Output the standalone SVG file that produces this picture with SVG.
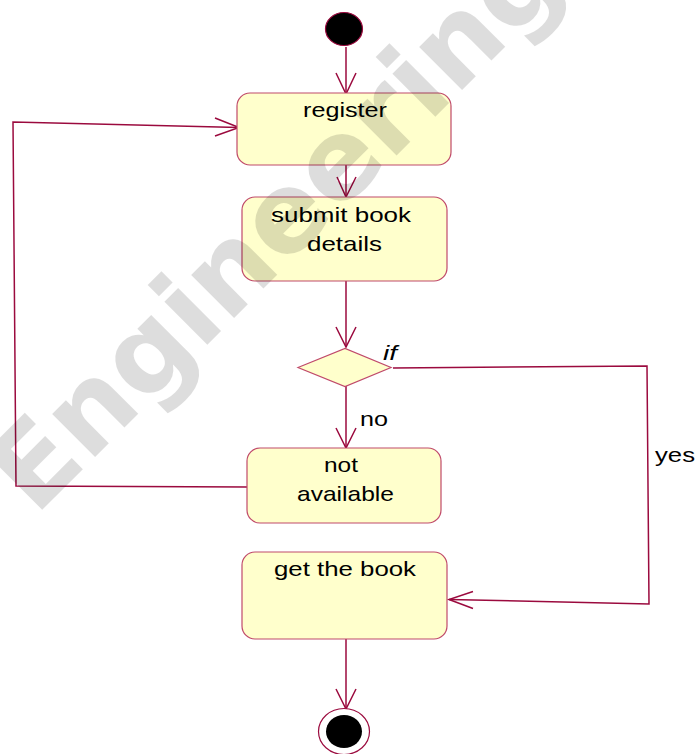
<svg xmlns="http://www.w3.org/2000/svg" width="696" height="754" viewBox="0 0 696 754">
  <style>
    .act { fill: #ffffcc; stroke: #c04a6a; stroke-width: 1.2; }
    .edge { fill: none; stroke: #9b0a3e; stroke-width: 1.5; }
    .head { fill: none; stroke: #9b0a3e; stroke-width: 1.5; stroke-linejoin: miter; }
    .lbl { font-family: "Liberation Sans", Arial, sans-serif; font-size: 21px; fill: #000; }
    .mark { font-family: "DejaVu Sans", Verdana, sans-serif; font-weight: bold; font-size: 111px; fill: #000; }
  </style>
  <rect width="696" height="754" fill="#ffffff"/>

  <!-- connectors -->
  <g id="connectors">
    <path class="edge" d="M346,47 V93"/>
    <path class="head" d="M336,73 L346,94 L356,73"/>
    <path class="edge" d="M346,165 V197"/>
    <path class="head" d="M337,177 L346,197 L356,177"/>
    <path class="edge" d="M346,281 V347"/>
    <path class="head" d="M336,327 L346,347 L356,327"/>
    <path class="edge" d="M346,386 V448"/>
    <path class="head" d="M336,428 L346,448 L356,428"/>
    <path class="edge" d="M393,368 L647,366 L649,604 L449,599.5"/>
    <path class="head" d="M473,591.5 L449,599.5 L473,608.5"/>
    <path class="edge" d="M248,487 L16,486 L13,122 L239,127.5"/>
    <path class="head" d="M215,118 L239,127.5 L215,136"/>
    <path class="edge" d="M346,639 V709"/>
    <path class="head" d="M336,689 L346,709 L356,689"/>
    <text class="lbl" x="360" y="426" textLength="28" lengthAdjust="spacingAndGlyphs">no</text>
    <text class="lbl" x="655" y="462" textLength="40" lengthAdjust="spacingAndGlyphs">yes</text>
  </g>

  <!-- start -->
  <g id="start">
    <ellipse cx="344" cy="29" rx="18.5" ry="16.5" fill="#000" stroke="#9b0a3e" stroke-width="1.2"/>
  </g>

  <g id="register">
    <rect class="act" x="237" y="93" width="214" height="72" rx="13"/>
    <text class="lbl" x="303" y="117" textLength="84" lengthAdjust="spacingAndGlyphs">register</text>
  </g>

  <g id="submit">
    <rect class="act" x="242" y="197" width="205" height="84" rx="13"/>
    <text class="lbl" x="271" y="221.5" textLength="140" lengthAdjust="spacingAndGlyphs">submit book</text>
    <text class="lbl" x="307" y="250.5" textLength="75" lengthAdjust="spacingAndGlyphs">details</text>
  </g>

  <g id="decision">
    <polygon points="298,367.5 345,348.5 391,367.5 345,386.5" fill="#ffffcc" stroke="#c04a6a" stroke-width="1.2"/>
    <text class="lbl" x="383" y="360" font-style="italic" textLength="14" lengthAdjust="spacingAndGlyphs">if</text>
  </g>

  <g id="not-available">
    <rect class="act" x="247" y="448" width="194" height="75" rx="13"/>
    <text class="lbl" x="324" y="472" textLength="34" lengthAdjust="spacingAndGlyphs">not</text>
    <text class="lbl" x="297" y="500.5" textLength="97" lengthAdjust="spacingAndGlyphs">available</text>
  </g>

  <g id="get-book">
    <rect class="act" x="242" y="552" width="205" height="87" rx="13"/>
    <text class="lbl" x="274" y="576" textLength="142" lengthAdjust="spacingAndGlyphs">get the book</text>
  </g>

  <!-- final -->
  <g id="end">
    <ellipse cx="344" cy="731.5" rx="25.5" ry="23" fill="#ffffff" stroke="#9b0a3e" stroke-width="1.2"/>
    <ellipse cx="344" cy="731.5" rx="18" ry="16.5" fill="#000"/>
  </g>

  <!-- watermark, laid over everything at low opacity -->
  <g opacity="0.13">
    <text class="mark" transform="translate(35,517) rotate(-45)" x="0" y="0">Engineering</text>
  </g>
</svg>
